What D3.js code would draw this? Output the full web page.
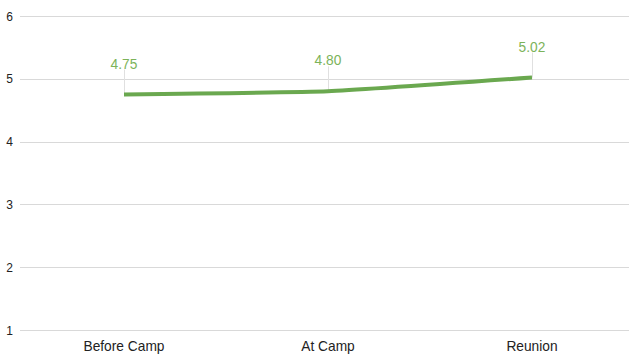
<!DOCTYPE html>
<html>
<head>
<meta charset="utf-8">
<script src="https://cdn.jsdelivr.net/npm/d3@7"></script>
<style>
  html, body { margin: 0; padding: 0; background: #fff; }
  svg { display: block; font-family: "Liberation Sans", Arial, sans-serif; }
</style>
</head>
<body>
<svg id="chart" width="630" height="354"></svg>
<script>
const categories = ["Before Camp", "At Camp", "Reunion"];
const values = [4.75, 4.80, 5.02];
const yTicks = [1, 2, 3, 4, 5, 6];

const width = 630, height = 354;
const plot = { left: 20, right: 629, top: 16, bottom: 330 };

const svg = d3.select("#chart");

const x = d3.scalePoint()
  .domain(categories)
  .range([22, 634])
  .padding(0.5);

const y = d3.scaleLinear()
  .domain([1, 6])
  .range([plot.bottom, plot.top]);

// horizontal gridlines
svg.append("g")
  .selectAll("line")
  .data(yTicks)
  .join("line")
  .attr("x1", plot.left)
  .attr("x2", plot.right)
  .attr("y1", d => Math.round(y(d)) + 0.5)
  .attr("y2", d => Math.round(y(d)) + 0.5)
  .attr("stroke", "#d9d9d9")
  .attr("stroke-width", 1.2);

// y tick labels
svg.append("g")
  .selectAll("text")
  .data(yTicks)
  .join("text")
  .attr("x", 13)
  .attr("y", d => y(d) + 4.5)
  .attr("text-anchor", "end")
  .attr("font-size", 12)
  .attr("fill", "#222")
  .text(d => d);

// category labels
svg.append("g")
  .selectAll("text")
  .data(categories)
  .join("text")
  .attr("x", d => x(d))
  .attr("y", 351)
  .attr("text-anchor", "middle")
  .attr("font-size", 13.75)
  .attr("fill", "#222")
  .text(d => d);

const pts = categories.map((c, i) => ({ c, v: values[i] }));

// leader lines from data labels to points
svg.append("g")
  .selectAll("line")
  .data(pts)
  .join("line")
  .attr("x1", d => Math.round(x(d.c)) + 0.5)
  .attr("x2", d => Math.round(x(d.c)) + 0.5)
  .attr("y1", d => y(d.v) - 25)
  .attr("y2", d => y(d.v))
  .attr("stroke", "#e0e0e0")
  .attr("stroke-width", 1);

// series line, lightly smoothed
const line = d3.line()
  .x(d => x(d.c))
  .y(d => y(d.v))
  .curve(d3.curveCardinal.tension(0.6));

svg.append("path")
  .datum(pts)
  .attr("d", line)
  .attr("fill", "none")
  .attr("stroke", "#6aa84f")
  .attr("stroke-width", 4);

// data labels
svg.append("g")
  .selectAll("text")
  .data(pts)
  .join("text")
  .attr("x", d => x(d.c))
  .attr("y", d => y(d.v) - 26)
  .attr("text-anchor", "middle")
  .attr("font-size", 13.75)
  .attr("fill", "#7cb35a")
  .text(d => d.v.toFixed(2));
</script>
</body>
</html>
